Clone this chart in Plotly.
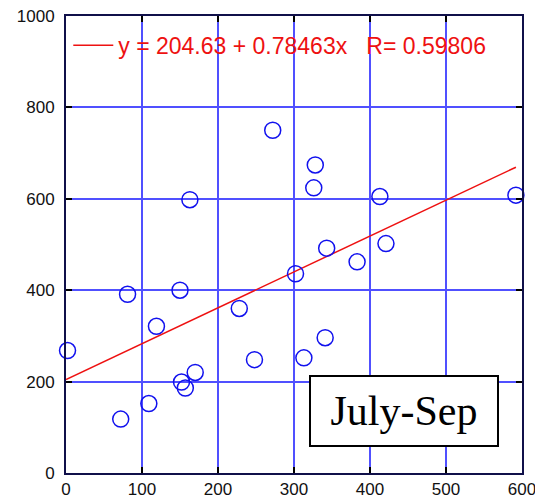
import numpy as np
import plotly.graph_objects as go

# Data (x, y)
x_vals = [2, 72, 81, 109, 119, 150, 152, 157, 163, 170, 228, 248, 272,
          302, 313, 326, 328, 341, 343, 383, 413, 421, 592]
y_vals = [268, 118, 391, 152, 321, 400, 199, 186, 598, 220, 360, 248, 750,
          436, 252, 624, 674, 296, 492, 462, 605, 502, 608]

# Fit reported in the chart
intercept = 204.63
slope = 0.78463
r_value = 0.59806

x_ticks = [0, 100, 200, 300, 400, 500, 600]
y_ticks = [0, 200, 400, 600, 800, 1000]
label_text = "July-Sep"

fit_x = np.array([0, max(x_vals)])
fit_y = intercept + slope * fit_x
legend_name = f"y = {intercept} + {slope}x\u00a0\u00a0\u00a0R= {r_value}"

fig = go.Figure()
fig.add_trace(go.Scatter(
    x=fit_x, y=fit_y, mode="lines",
    line=dict(color="#ee1111", width=1.5),
    name=legend_name, showlegend=True,
))
fig.add_trace(go.Scatter(
    x=x_vals, y=y_vals, mode="markers",
    marker=dict(symbol="circle-open", size=16, color="#1111ee",
                line=dict(width=1.5, color="#1111ee")),
    showlegend=False, cliponaxis=False,
))

axis_common = dict(
    showline=True, linecolor="#10104a", linewidth=2, mirror="ticks",
    ticks="inside", ticklen=6, tickwidth=2, tickcolor="#000000",
    showgrid=True, gridcolor="#5050ff", gridwidth=1.5,
    zeroline=False, automargin=False, ticklabeloverflow="allow",
    tickfont=dict(family="Liberation Sans, Arial", size=17, color="#111111"),
)

fig.update_xaxes(range=[0, 600], tickvals=x_ticks, **axis_common)
fig.update_yaxes(range=[0, 1000], tickvals=y_ticks, ticklabelstandoff=6, **axis_common)

fig.add_annotation(
    x=0.741, y=0.135, xref="paper", yref="paper",
    xanchor="center", yanchor="middle",
    text=label_text, showarrow=False,
    font=dict(family="Liberation Serif, Times New Roman", size=42, color="#000000"),
    bgcolor="white", bordercolor="#000000", borderwidth=2, borderpad=0,
    width=186, height=68,
)

fig.update_layout(
    width=535, height=502,
    margin=dict(l=66, r=13, t=16, b=29),
    plot_bgcolor="white", paper_bgcolor="white",
    legend=dict(
        x=0.005, y=0.983, xanchor="left", yanchor="top",
        bgcolor="rgba(0,0,0,0)", borderwidth=0,
        font=dict(family="Liberation Sans, Arial", size=23, color="#ee1111"),
        itemwidth=40,
    ),
)

fig.write_html("out.html")
